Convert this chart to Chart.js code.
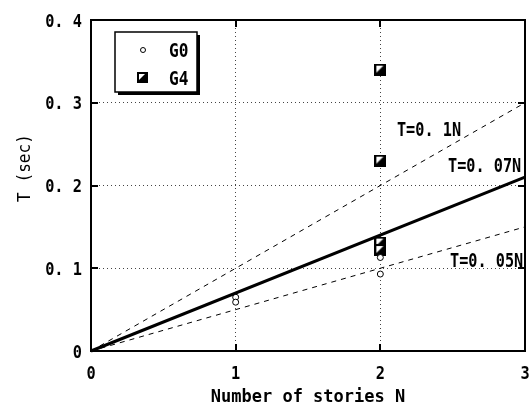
<!DOCTYPE html>
<html><head><meta charset="utf-8">
<script src="https://cdn.jsdelivr.net/npm/chart.js@4/dist/chart.umd.min.js"></script>
<style>html,body{margin:0;padding:0;background:#fff}#c{display:block}</style>
</head><body>
<canvas id="c" width="532" height="408"></canvas>
<script>
// ---- data ----
const xTickValues = [0, 1, 2, 3];
const xTickLabels = ['0', '1', '2', '3'];
const yTickValues = [0, 0.1, 0.2, 0.3, 0.4];
const yTickLabels = ['0', '0. 1', '0. 2', '0. 3', '0. 4'];
const seriesNames = ['G0', 'G4'];
const g0X = [1, 1, 2, 2];
const g0Y = [0.065, 0.059, 0.113, 0.093];
const g4X = [2, 2, 2, 2];
const g4Y = [0.34, 0.23, 0.131, 0.122];
const lineX = [0, 3];
const line01Y = [0, 0.3];
const line007Y = [0, 0.21];
const line005Y = [0, 0.15];
const lineLabels = ['T=0. 1N', 'T=0. 07N', 'T=0. 05N'];
const xTitle = 'Number of stories N';
const yTitle = 'T (sec)';

const MONO = "'DejaVu Sans Mono', monospace";

function makeSquare(s) {
  const c = document.createElement('canvas');
  c.width = s; c.height = s;
  const x = c.getContext('2d');
  x.fillStyle = '#000'; x.fillRect(0, 0, s, s);
  x.fillStyle = '#fff';
  x.beginPath(); x.moveTo(2, 2); x.lineTo(s - 3, 2); x.lineTo(2, s - 3); x.closePath(); x.fill();
  return c;
}
const sq = makeSquare(12);
const sqLegend = makeSquare(11);

const pts = (xs, ys) => xs.map((v, i) => ({x: v, y: ys[i]}));

// draw text with horizontal condensing; (x, cy) = anchor & vertical centre of caps
function txt(ctx, t, x, cy, size, sx, align, weight) {
  ctx.save();
  ctx.font = (weight || 'bold') + ' ' + size + 'px ' + MONO;
  ctx.textBaseline = 'alphabetic';
  ctx.textAlign = align;
  ctx.translate(x, cy + size * 0.729 / 2);
  ctx.scale(sx, 1);
  ctx.fillText(t, 0, 0);
  ctx.restore();
}

const framePlugin = {
  id: 'frame',
  afterDraw(chart) {
    const ctx = chart.ctx, a = chart.chartArea;
    const xs = chart.scales.x, ys = chart.scales.y;
    ctx.save();
    ctx.strokeStyle = '#000';
    ctx.fillStyle = '#000';
    ctx.lineWidth = 2;
    ctx.strokeRect(a.left, a.top, a.right - a.left, a.bottom - a.top);
    ctx.beginPath();
    xTickValues.slice(1, -1).forEach(v => {
      const p = Math.round(xs.getPixelForValue(v));
      ctx.moveTo(p, a.bottom); ctx.lineTo(p, a.bottom - 7);
      ctx.moveTo(p, a.top); ctx.lineTo(p, a.top + 7);
    });
    yTickValues.slice(1, -1).forEach(v => {
      const p = Math.round(ys.getPixelForValue(v));
      ctx.moveTo(a.left, p); ctx.lineTo(a.left + 7, p);
      ctx.moveTo(a.right, p); ctx.lineTo(a.right - 7, p);
    });
    ctx.stroke();

    // tick labels
    xTickValues.forEach((v, i) => txt(ctx, xTickLabels[i], xs.getPixelForValue(v), 372, 18, 0.85, 'center'));
    yTickValues.forEach((v, i) => txt(ctx, yTickLabels[i], 82, ys.getPixelForValue(v), 18, 0.85, 'right'));

    // line labels
    const lblPos = [[2.115, 0.268], [2.468, 0.225], [2.482, 0.11]];
    lineLabels.forEach((t, i) => txt(ctx, t, xs.getPixelForValue(lblPos[i][0]), ys.getPixelForValue(lblPos[i][1]), 19, 0.8, 'left'));

    // axis titles
    txt(ctx, xTitle, (a.left + a.right) / 2, 396, 17, 1.0, 'center');
    ctx.save();
    ctx.translate(24, 168);
    ctx.rotate(-Math.PI / 2);
    txt(ctx, yTitle, 0, 0, 17, 0.95, 'center', 'normal');
    ctx.restore();

    // legend box
    const bx = 115, by = 32, bw = 82, bh = 60;
    ctx.fillStyle = '#000';
    ctx.fillRect(bx + 3, by + 3, bw, bh);
    ctx.fillStyle = '#fff';
    ctx.fillRect(bx, by, bw, bh);
    ctx.lineWidth = 1.5;
    ctx.strokeRect(bx, by, bw, bh);
    ctx.beginPath();
    ctx.arc(143, 50, 2.5, 0, Math.PI * 2);
    ctx.fillStyle = '#fff'; ctx.fill();
    ctx.lineWidth = 1; ctx.stroke();
    ctx.drawImage(sqLegend, 137, 72);
    ctx.fillStyle = '#000';
    txt(ctx, seriesNames[0], 169, 50, 19, 0.85, 'left');
    txt(ctx, seriesNames[1], 169, 78, 19, 0.85, 'left');
    ctx.restore();
  }
};

new Chart(document.getElementById('c'), {
  type: 'scatter',
  data: {
    datasets: [
      {label: 'T=0.1N', data: pts(lineX, line01Y), showLine: true, borderColor: '#000', borderWidth: 1, borderDash: [5, 5], pointRadius: 0},
      {label: 'T=0.05N', data: pts(lineX, line005Y), showLine: true, borderColor: '#000', borderWidth: 1, borderDash: [5, 5], pointRadius: 0},
      {label: 'T=0.07N', data: pts(lineX, line007Y), showLine: true, borderColor: '#000', borderWidth: 3, pointRadius: 0},
      {label: seriesNames[0], data: pts(g0X, g0Y), pointStyle: 'circle', pointRadius: 3, backgroundColor: '#fff', borderColor: '#000', borderWidth: 1},
      {label: seriesNames[1], data: pts(g4X, g4Y), pointStyle: sq, pointRadius: 6}
    ]
  },
  options: {
    responsive: false,
    animation: false,
    clip: false,
    layout: {padding: {top: 20, right: 7, left: 0, bottom: 0}},
    plugins: {legend: {display: false}, tooltip: {enabled: false}},
    scales: {
      x: {
        type: 'linear', min: 0, max: 3,
        afterBuildTicks: s => { s.ticks = xTickValues.map(v => ({value: v})); },
        afterFit: s => { s.height = 57; s.paddingLeft = 0; s.paddingRight = 0; },
        ticks: {display: false},
        grid: {drawTicks: false, lineWidth: 1, color: c => (c.index === 0 || c.index === xTickValues.length - 1) ? 'rgba(0,0,0,0)' : '#444'},
        border: {display: false, dash: [1, 3]}
      },
      y: {
        type: 'linear', min: 0, max: 0.4,
        afterBuildTicks: s => { s.ticks = yTickValues.map(v => ({value: v})); },
        afterFit: s => { s.width = 91; s.paddingTop = 0; s.paddingBottom = 0; },
        ticks: {display: false},
        grid: {drawTicks: false, lineWidth: 1, color: c => (c.index === 0 || c.index === yTickValues.length - 1) ? 'rgba(0,0,0,0)' : '#444'},
        border: {display: false, dash: [1, 3]}
      }
    }
  },
  plugins: [framePlugin]
});
</script>
</body></html>
